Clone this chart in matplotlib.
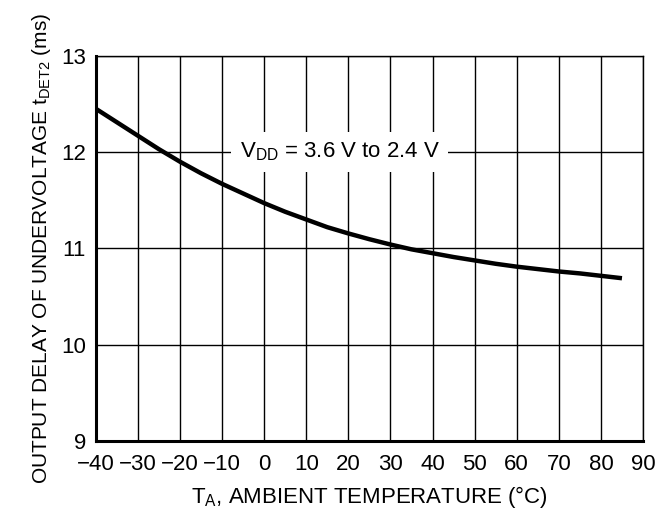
import matplotlib
matplotlib.use("Agg")
import matplotlib.pyplot as plt

plt.rcParams['font.family'] = ['Liberation Sans', 'DejaVu Sans']
plt.rcParams['mathtext.fontset'] = 'custom'
plt.rcParams['mathtext.rm'] = 'Liberation Sans'
plt.rcParams['mathtext.default'] = 'regular'

temp = [-40, -35, -30, -25, -20, -15, -10, -5, 0, 5, 10, 15, 20, 25, 30, 35, 40, 45, 50, 55, 60, 65, 70, 75, 80, 85]
delay = [12.45, 12.31, 12.17, 12.03, 11.90, 11.78, 11.67, 11.57, 11.47, 11.38, 11.30, 11.22, 11.155, 11.095, 11.04,
         10.99, 10.95, 10.91, 10.875, 10.84, 10.81, 10.785, 10.76, 10.74, 10.715, 10.69]

xticks = [-40, -30, -20, -10, 0, 10, 20, 30, 40, 50, 60, 70, 80, 90]
xtick_labels = ['\u221240', '\u221230', '\u221220', '\u221210', '0', '10', '20', '30', '40', '50', '60', '70', '80', '90']
yticks = [9, 10, 11, 12, 13]

fig = plt.figure(figsize=(6.68, 5.14), dpi=100)
ax = fig.add_axes([0.1433, 0.142, 0.8193, 0.7496])

ax.plot(temp, delay, color='black', lw=3.2, solid_capstyle='butt', solid_joinstyle='round', zorder=3)

ax.set_xlim(-40, 90)
ax.set_ylim(9, 13)
ax.set_xticks(xticks)
ax.set_xticklabels(xtick_labels)
ax.set_yticks(yticks)
ax.tick_params(length=0, labelsize=16, colors='black')
ax.tick_params(axis='x', pad=9)
ax.tick_params(axis='y', pad=7)
ax.grid(True, color='black', lw=1.0)
ax.set_axisbelow(True)
for s in ['top', 'right']:
    ax.spines[s].set_linewidth(1.0)
for s in ['left', 'bottom']:
    ax.spines[s].set_linewidth(2.2)

ax.text(18, 12, r'V$_{DD}$ = 3.6 V to 2.4 V', fontsize=16, ha='center', va='center',
        bbox=dict(facecolor='white', edgecolor='none', pad=6), zorder=4)

ax.set_xlabel(r'T$_{A}$, AMBIENT TEMPERATURE (°C)', fontsize=16, labelpad=7)
ax.set_ylabel(r'OUTPUT DELAY OF UNDERVOLTAGE t$_{DET2}$ (ms)', fontsize=15, labelpad=6)

fig.savefig('out.png', dpi=100)
